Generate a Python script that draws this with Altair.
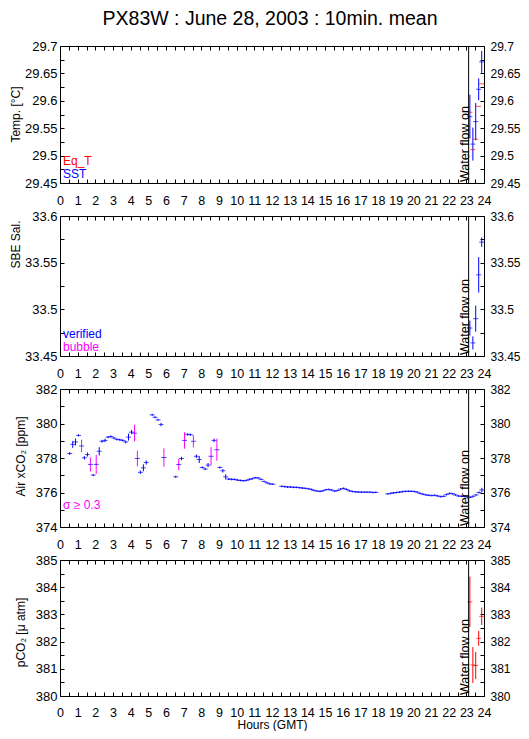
import altair as alt
import pandas as pd

FONT = "Liberation Sans"
BLUE = "#0000ff"
RED = "#ff0000"
MAGENTA = "#ff00ff"

TITLE = "PX83W : June 28, 2003 : 10min. mean"
WATER_ON = 23.13

# ---------------- x axis ----------------
x_labels = [0, 1, 2, 3, 4, 5, 6, 7, 8, 9, 10, 11, 12, 13, 14, 15, 16, 17, 18, 19, 20, 21, 22, 23, 24]
x_ticks = [0, 0.5, 1, 1.5, 2, 2.5, 3, 3.5, 4, 4.5, 5, 5.5, 6, 6.5, 7, 7.5, 8, 8.5, 9, 9.5,
           10, 10.5, 11, 11.5, 12, 12.5, 13, 13.5, 14, 14.5, 15, 15.5, 16, 16.5, 17, 17.5,
           18, 18.5, 19, 19.5, 20, 20.5, 21, 21.5, 22, 22.5, 23, 23.5, 24]

# ---------------- panel 1 : temperature ----------------
t_hours = [23.2, 23.37, 23.53, 23.7, 23.87]
sst = [29.571, 29.521, 29.562, 29.621, 29.671]
sst_err = [0.04, 0.03, 0.034, 0.02, 0.02]
eqt = [29.579, 29.511, 29.530, 29.590, 29.631]
temp_major = [29.45, 29.5, 29.55, 29.6, 29.65, 29.7]
temp_ticks = [29.45, 29.475, 29.5, 29.525, 29.55, 29.575, 29.6, 29.625, 29.65, 29.675, 29.7]

# ---------------- panel 2 : salinity ----------------
sal = [33.480, 33.464, 33.490, 33.537, 33.572]
sal_err = [0.008, 0.007, 0.014, 0.019, 0.005]
sal_major = [33.45, 33.5, 33.55, 33.6]
sal_ticks = [33.45, 33.475, 33.5, 33.525, 33.55, 33.575, 33.6]

# ---------------- panel 3 : air xCO2 ----------------
co2_hours = [
    0.55, 0.72, 0.88, 1.05, 1.22, 1.38, 1.55, 1.72, 1.88, 2.05, 2.22, 2.38, 2.55, 2.72,
    2.88, 3.05, 3.22, 3.38, 3.55, 3.72, 3.88, 4.05, 4.22, 4.38, 4.55, 4.72, 4.88,
    5.22, 5.38, 5.55, 5.72, 5.88,
    6.55, 6.72, 6.88, 7.05, 7.22, 7.38, 7.55, 7.72, 7.88, 8.05, 8.22, 8.38, 8.55, 8.72,
    8.88, 9.05, 9.22, 9.38, 9.55, 9.72, 9.88, 10.05, 10.22, 10.38, 10.55, 10.72, 10.88,
    11.05, 11.22, 11.38, 11.55, 11.72, 11.88, 12.05,
    12.55, 12.72, 12.88, 13.05, 13.22, 13.38, 13.55, 13.72, 13.88, 14.05, 14.22, 14.38,
    14.55, 14.72, 14.88, 15.05, 15.22, 15.38, 15.55, 15.72, 15.88, 16.05, 16.22, 16.38,
    16.55, 16.72, 16.88, 17.05, 17.22, 17.38, 17.55, 17.72, 17.88,
    18.55, 18.72, 18.88, 19.05, 19.22, 19.38, 19.55, 19.72, 19.88, 20.05, 20.22, 20.38,
    20.55, 20.72, 20.88, 21.05, 21.22, 21.38, 21.55, 21.72, 21.88, 22.05, 22.22, 22.38,
    22.55, 22.72, 22.88, 23.05, 23.22, 23.38, 23.55, 23.72, 23.88,
]
co2_vals = [
    378.26, 378.79, 378.93, 379.31, 378.70, 378.01, 378.20, 377.63, 377.01, 377.63, 378.39, 378.97, 379.02, 379.21,
    379.25, 379.16, 379.08, 379.06, 379.02, 378.93, 379.21, 379.50, 379.44, 377.97, 377.17, 377.43, 377.74,
    380.50, 380.36, 380.21, 379.94, 378.03,
    376.91, 377.62, 377.97, 379.02, 379.37, 379.35, 378.97, 378.10, 377.91, 377.45, 377.36, 377.59, 378.10, 379.02,
    378.48, 377.45, 377.26, 376.91, 376.78, 376.76, 376.76, 376.72, 376.70, 376.68, 376.70, 376.76, 376.80,
    376.86, 376.84, 376.76, 376.64, 376.56, 376.50, 376.48,
    376.36, 376.34, 376.32, 376.32, 376.30, 376.30, 376.28, 376.26, 376.24, 376.22, 376.18, 376.12,
    376.08, 376.06, 376.10, 376.16, 376.18, 376.14, 376.08, 376.12, 376.20, 376.24, 376.18, 376.10,
    376.06, 376.04, 376.03, 376.02, 376.02, 376.02, 376.02, 376.00, 376.01,
    375.92, 375.95, 375.98, 376.00, 376.02, 376.05, 376.07, 376.07, 376.07, 376.06, 376.02, 375.95,
    375.90, 375.86, 375.84, 375.82, 375.84, 375.80, 375.76, 375.78, 375.88, 375.95, 375.93, 375.86,
    375.80, 375.78, 375.78, 375.74, 375.72, 375.78, 375.86, 376.00, 376.15,
]
co2_err = [
    0.08, 0.20, 0.20, 0.06, 0.36, 0.10, 0.12, 0.41, 0.06, 0.55, 0.24, 0.08, 0.10, 0.06,
    0.06, 0.06, 0.06, 0.06, 0.06, 0.08, 0.20, 0.12, 0.48, 0.45, 0.10, 0.20, 0.12,
    0.06, 0.06, 0.06, 0.10, 0.53,
    0.06, 0.32, 0.10, 0.48, 0.06, 0.06, 0.36, 0.10, 0.20, 0.06, 0.06, 0.12, 0.53, 0.10,
    0.64, 0.06, 0.10, 0.15, 0.06, 0.06, 0.05, 0.05, 0.05, 0.05, 0.05, 0.05, 0.05,
    0.05, 0.05, 0.05, 0.05, 0.05, 0.05, 0.05,
    0.05, 0.05, 0.05, 0.05, 0.05, 0.05, 0.05, 0.05, 0.05, 0.05, 0.05, 0.05,
    0.05, 0.05, 0.05, 0.05, 0.05, 0.05, 0.05, 0.05, 0.05, 0.05, 0.05, 0.05,
    0.05, 0.05, 0.05, 0.05, 0.05, 0.05, 0.05, 0.05, 0.05,
    0.05, 0.05, 0.05, 0.05, 0.05, 0.05, 0.05, 0.05, 0.05, 0.05, 0.05, 0.05,
    0.05, 0.05, 0.05, 0.05, 0.05, 0.05, 0.05, 0.05, 0.05, 0.05, 0.05, 0.05,
    0.05, 0.05, 0.05, 0.05, 0.05, 0.05, 0.05, 0.06, 0.12,
]
co2_major = [374, 376, 378, 380, 382]
co2_ticks = [374, 375, 376, 377, 378, 379, 380, 381, 382]
SIGMA_LIMIT = 0.3

# ---------------- panel 4 : pCO2 ----------------
pco2 = [383.46, 381.14, 381.12, 382.12, 382.93]
pco2_err = [0.93, 0.66, 0.50, 0.27, 0.32]
pco2_major = [380, 381, 382, 383, 384, 385]
pco2_ticks = [380, 380.5, 381, 381.5, 382, 382.5, 383, 383.5, 384, 384.5, 385]

W = 424
XS = alt.Scale(domain=[0, 24], nice=False, zero=False)


def pts(hours, vals, errs, colors):
    return pd.DataFrame({
        "h": hours, "v": vals,
        "lo": [v - e for v, e in zip(vals, errs)],
        "hi": [v + e for v, e in zip(vals, errs)],
        "c": colors,
    })


def panel(df, ydom, ymajor, yticks, ytitle, tx, ty, H, marks, xtitle=None):
    ys = alt.Scale(domain=ydom, nice=False, zero=False)
    base = alt.Chart(df).mark_point(opacity=0)
    left_kw = dict(orient="left", values=ymajor, format="~g", ticks=False, domain=False,
                   labelPadding=3, labelFontSize=13, title=ytitle, titleAngle=270,
                   titleBaseline="top", titleAlign="center", titleX=tx, titleY=ty,
                   titleFontSize=12)
    bottom_kw = dict(orient="bottom", values=x_labels, format="d", ticks=False, domain=False,
                     labelPadding=11, labelFontSize=12.5, labelFlush=False)
    if xtitle:
        bottom_kw.update(title=xtitle, titleY=23.5, titleBaseline="top", titleFontSize=12,
                         labelPadding=10)
    else:
        bottom_kw.update(title=None)
    la = base.encode(
        x=alt.X("h:Q", scale=XS, axis=alt.Axis(**bottom_kw)),
        y=alt.Y("v:Q", scale=ys, axis=alt.Axis(**left_kw)),
    )
    lb = base.encode(
        x=alt.X("h:Q", scale=XS, axis=alt.Axis(orient="top", values=x_ticks, labels=False,
                                                 domain=False, tickSize=4, offset=-4, title=None)),
        y=alt.Y("v:Q", scale=ys, axis=alt.Axis(orient="right", values=ymajor, format="~g",
                                                 ticks=False, domain=False, labelPadding=6,
                                                 labelFontSize=12, title=None)),
    )
    lc = base.encode(
        x=alt.X("h:Q", scale=XS, axis=alt.Axis(orient="bottom", values=x_ticks, labels=False,
                                                 domain=False, tickSize=4, offset=-4, title=None)),
        y=alt.Y("v:Q", scale=ys, axis=alt.Axis(orient="left", values=yticks, labels=False,
                                                 domain=False, tickSize=4, offset=-4, title=None)),
    )
    ld = base.encode(
        x=alt.X("h:Q", scale=XS, axis=None),
        y=alt.Y("v:Q", scale=ys, axis=alt.Axis(orient="right", values=yticks, labels=False,
                                                 domain=False, tickSize=4, offset=-4, title=None)),
    )
    water = pd.DataFrame({"h": [WATER_ON], "t": ["Water flow on"]})
    wl = alt.Chart(water).mark_rule(color="black", strokeWidth=1).encode(
        x=alt.X("h:Q", scale=XS, axis=None))
    wt = alt.Chart(water).mark_text(angle=270, align="left", baseline="alphabetic",
                                     font=FONT, fontSize=12.5, color="black").encode(
        x=alt.X("h:Q", scale=XS, axis=None), y=alt.value(H - 1), text="t:N")
    layers = [la, lb, lc, ld]
    for m in marks:
        layers.append(m(ys))
    layers += [wl, wt]
    return alt.layer(*layers).resolve_axis(x="independent", y="independent").properties(
        width=W, height=H)


def errbars(df):
    def f(ys):
        return alt.Chart(df).mark_rule(strokeWidth=1).encode(
            x=alt.X("h:Q", scale=XS, axis=None),
            y=alt.Y("lo:Q", scale=ys, axis=None), y2="hi:Q",
            color=alt.Color("c:N", scale=None))
    return f


def dashes(df, color=None):
    def f(ys):
        m = alt.Chart(df).mark_tick(orient="horizontal", size=5, thickness=1)
        enc = dict(x=alt.X("h:Q", scale=XS, axis=None), y=alt.Y("v:Q", scale=ys, axis=None))
        if color:
            return m.encode(color=alt.value(color), **enc)
        return m.encode(color=alt.Color("c:N", scale=None), **enc)
    return f


def label(txt, color, H, up):
    def f(ys):
        return alt.Chart(pd.DataFrame({"t": [txt]})).mark_text(
            align="left", baseline="alphabetic", font=FONT, fontSize=12, color=color).encode(
            x=alt.value(3), y=alt.value(H - up), text="t:N")
    return f


def main_title(ys):
    return alt.Chart(pd.DataFrame({"t": [TITLE]})).mark_text(
        align="center", baseline="alphabetic", font=FONT, fontSize=19.5, color="black").encode(
        x=alt.value(210), y=alt.value(-21), text="t:N")


# panel 1
H1 = 137
sst_df = pts(t_hours, sst, sst_err, [BLUE] * len(sst))
eqt_df = pts(t_hours, eqt, [0] * len(eqt), [RED] * len(eqt))
p1 = panel(sst_df, [29.45, 29.7], temp_major, temp_ticks, "Temp. [°C]", -50, 68, H1,
           [errbars(sst_df), dashes(sst_df), dashes(eqt_df),
            label("Eq_T", RED, H1, 18.5), label("SST", BLUE, H1, 5), main_title])

# panel 2
H2 = 140
sal_df = pts(t_hours, sal, sal_err, [BLUE] * len(sal))
p2 = panel(sal_df, [33.45, 33.6], sal_major, sal_ticks, "SBE Sal.", -50, 28, H2,
           [errbars(sal_df), dashes(sal_df),
            label("verified", BLUE, H2, 18.5), label("bubble", MAGENTA, H2, 5.5)])

# panel 3
H3 = 138
co2_df = pts(co2_hours, co2_vals, co2_err,
             [MAGENTA if e >= SIGMA_LIMIT else BLUE for e in co2_err])
p3 = panel(co2_df, [374, 382], co2_major, co2_ticks, "Air xCO₂ [ppm]", -45, 67, H3,
           [errbars(co2_df), dashes(co2_df, BLUE), label("σ ≥ 0.3", MAGENTA, H3, 18.5)])

# panel 4
H4 = 136
pco2_df = pts(t_hours, pco2, pco2_err, [RED] * len(pco2))
p4 = panel(pco2_df, [380, 385], pco2_major, pco2_ticks, "pCO₂ [μ atm]", -45, 72, H4,
           [errbars(pco2_df), dashes(pco2_df)], xtitle="Hours (GMT)")

chart = alt.vconcat(p1, p2, p3, p4, spacing=33, bounds="flush").properties(
    padding={"left": 0, "top": 0, "right": 0, "bottom": 0},
).configure_view(stroke="black", strokeWidth=1).configure_axis(
    grid=False, labelFont=FONT, titleFont=FONT, labelColor="black", titleColor="black",
    tickColor="black", titleFontWeight="normal", labelOverlap=False, labelFlush=False,
)

chart.save("out.html", embed_options={"renderer": "svg", "actions": False})
